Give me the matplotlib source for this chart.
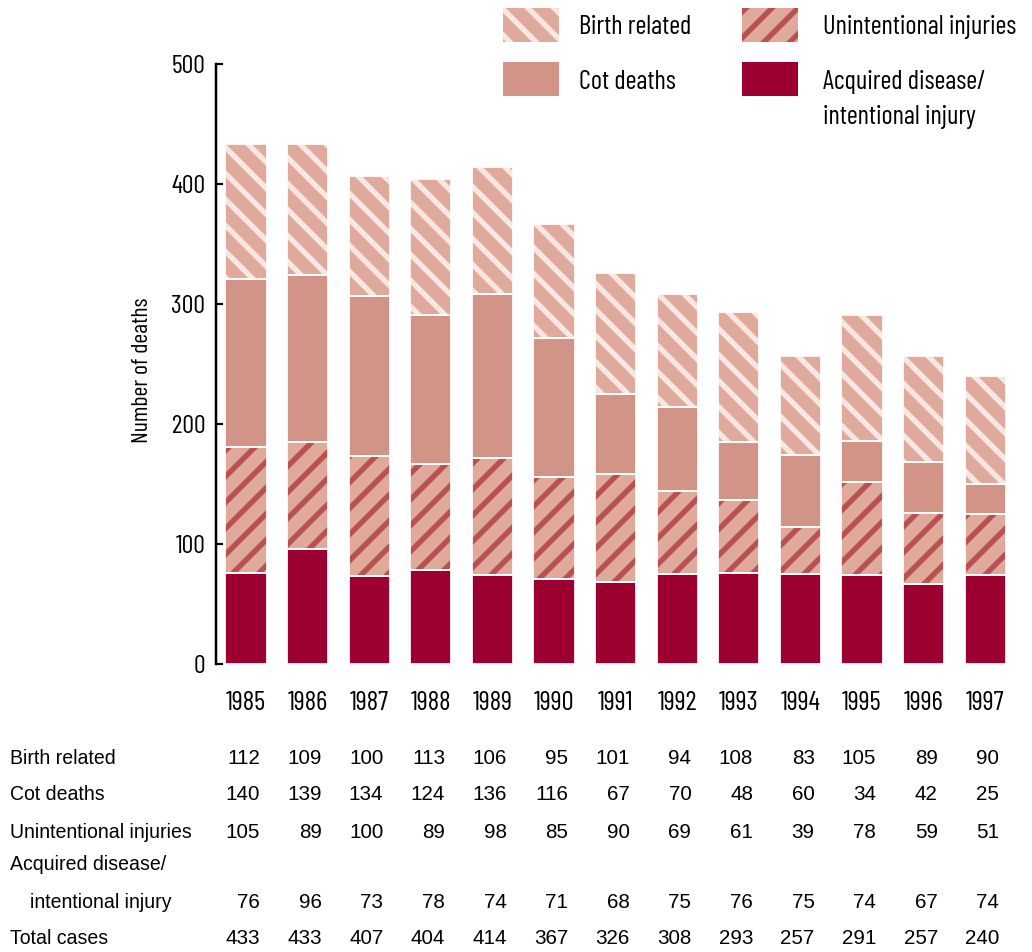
import numpy as np
import matplotlib
matplotlib.use("Agg")
import matplotlib.pyplot as plt
import matplotlib.patches as mpatches
import matplotlib.transforms as mtransforms

years = ['1985', '1986', '1987', '1988', '1989', '1990', '1991',
         '1992', '1993', '1994', '1995', '1996', '1997']
birth = [112, 109, 100, 113, 106, 95, 101, 94, 108, 83, 105, 89, 90]
cot = [140, 139, 134, 124, 136, 116, 67, 70, 48, 60, 34, 42, 25]
unintentional = [105, 89, 100, 89, 98, 85, 90, 69, 61, 39, 78, 59, 51]
acquired = [76, 96, 73, 78, 74, 71, 68, 75, 76, 75, 74, 67, 74]

row_labels = ['Birth related', 'Cot deaths', 'Unintentional injuries',
              'Acquired disease/', 'intentional injury', 'Total cases']

# colours
c_acq = '#9b0030'
c_cot = '#d39488'
c_base = '#dfa99b'
c_light = '#f8e6e1'
c_dark = '#b85252'

narrow = ['Barlow Condensed', 'Archivo Narrow', 'DejaVu Sans']
plain = ['Liberation Sans', 'DejaVu Sans']

DPI = 78
W, H = 1032, 952
plt.rcParams['hatch.linewidth'] = 5.0

fig = plt.figure(figsize=(W / DPI, H / DPI), dpi=DPI)
ax = fig.add_axes([216 / W, 1 - 664 / H, 800 / W, 600 / H])

x = np.arange(len(years))
acq = np.array(acquired)
uni = np.array(unintentional)
ct = np.array(cot)
br = np.array(birth)
totals = acq + uni + ct + br
bw = 0.67

b1 = acq * 0
b2 = acq
b3 = acq + uni
b4 = acq + uni + ct

ax.bar(x, acq, bw, bottom=b1, color=c_acq, linewidth=0)
ax.bar(x, uni, bw, bottom=b2, color=c_base, edgecolor=c_dark, hatch='/', linewidth=0)
ax.bar(x, ct, bw, bottom=b3, color=c_cot, linewidth=0)
ax.bar(x, br, bw, bottom=b4, color=c_base, edgecolor=c_light, hatch='\\', linewidth=0)

# white separators between the stacked segments
for vals, bot in [(acq, b1), (uni, b2), (ct, b3), (br, b4)]:
    ax.bar(x, vals, bw, bottom=bot, fill=False, edgecolor='white', linewidth=1.6)

ax.set_xlim(-0.487, 12.5)
ax.set_ylim(0, 500)
for s in ['top', 'right', 'bottom']:
    ax.spines[s].set_visible(False)
ax.spines['left'].set_linewidth(2.3)

ax.set_yticks([0, 100, 200, 300, 400, 500])
ax.tick_params(axis='y', direction='in', length=6.5, width=2.0, pad=10)
ax.set_xticks(x)
ax.set_xticklabels(years)
ax.tick_params(axis='x', length=0, pad=25)
for lab in ax.get_yticklabels():
    lab.set_family(narrow)
    lab.set_fontsize(24)
for lab in ax.get_xticklabels():
    lab.set_family(narrow)
    lab.set_fontsize(25)

fig.text(143 / W, 1 - 370 / H, 'Number of deaths', rotation=90, ha='center',
         va='center', family=narrow, fontsize=22)

# legend
def legend_box(px, py, face, hatch=None, hcolor=None):
    r = mpatches.Rectangle((px / W, 1 - (py + 34) / H), 56 / W, 34 / H,
                           transform=fig.transFigure, facecolor=face,
                           edgecolor=hcolor if hcolor else face, hatch=hatch,
                           linewidth=0)
    fig.add_artist(r)

legend_box(503, 8, c_base, '\\', c_light)
legend_box(503, 62, c_cot)
legend_box(742, 8, c_base, '/', c_dark)
legend_box(742, 62, c_acq)
fig.text(579 / W, 1 - 27 / H, 'Birth related', va='center', family=narrow, fontsize=24.5)
fig.text(579 / W, 1 - 82 / H, 'Cot deaths', va='center', family=narrow, fontsize=24.5)
fig.text(823 / W, 1 - 27 / H, 'Unintentional injuries', va='center', family=narrow, fontsize=24.5)
fig.text(823 / W, 1 - 82 / H, 'Acquired disease/', va='center', family=narrow, fontsize=24.5)
fig.text(823 / W, 1 - 117 / H, 'intentional injury', va='center', family=narrow, fontsize=24.5)

# data table under the chart
row_y = [758, 795, 833, 865, 902, 938]
row_x = [10, 10, 10, 10, 30, 10]
for lab, ry, rx in zip(row_labels, row_y, row_x):
    fig.text(rx / W, 1 - ry / H, lab, va='center', family=plain, fontsize=18)

trans = mtransforms.blended_transform_factory(ax.transData, fig.transFigure)
rows = [birth, cot, unintentional, None, acquired, totals]
for vals, ry in zip(rows, row_y):
    if vals is None:
        continue
    for i, v in enumerate(vals):
        ax.text(i + 0.23, 1 - ry / H, str(v), transform=trans, ha='right',
                va='center', family=plain, fontsize=19)

fig.savefig('out.png', dpi=DPI)
